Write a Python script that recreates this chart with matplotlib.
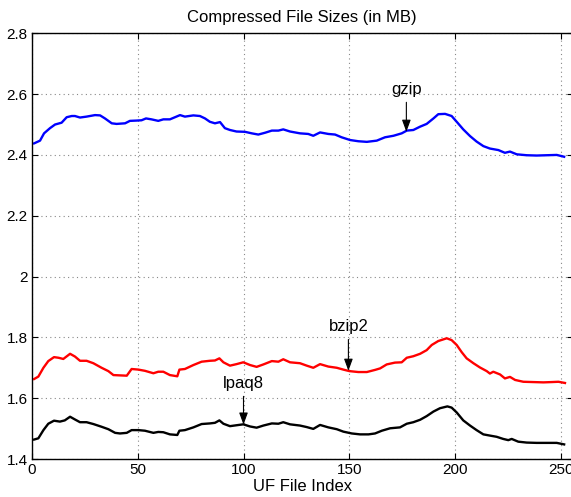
import matplotlib
matplotlib.use("Agg")
import matplotlib.pyplot as plt

plt.rcParams['font.family'] = ['Liberation Sans', 'DejaVu Sans']

gzip_x = [1, 3.8, 5.7, 8.5, 10.9, 14, 16.4, 18.8, 20.3, 22.7, 25.8, 29.8, 32.2, 34.5, 37.7, 40,
          44, 46.3, 49.5, 51.8, 53.9, 56.5, 59.7, 62.1, 65.2, 67.6, 70, 72.3, 76.3, 79.4, 81.8,
          84.1, 86.5, 88.9, 91.2, 93.6, 96.7, 100.7, 103.9, 107, 110.2, 113.4, 116.5, 118.8,
          122, 126.7, 130.6, 133, 136.2, 140.1, 143.3, 146.4, 150.4, 154.3, 158.3, 163,
          166.9, 170.9, 174.8, 177.2, 180.3, 183.5, 186.6, 189.8, 192.1, 195.3, 198.4, 200.8,
          203.9, 207.1, 210.2, 213.4, 216.5, 220.5, 223.6, 226, 229.2, 233.9, 238.6, 243.4,
          248.1, 251.6]
gzip_y = [2.438, 2.447, 2.471, 2.488, 2.500, 2.506, 2.524, 2.528, 2.528, 2.523, 2.526, 2.531,
          2.530, 2.520, 2.504, 2.502, 2.504, 2.512, 2.513, 2.514, 2.520, 2.517, 2.512, 2.517,
          2.517, 2.524, 2.531, 2.526, 2.530, 2.528, 2.520, 2.509, 2.504, 2.508, 2.488, 2.482,
          2.477, 2.476, 2.471, 2.467, 2.473, 2.480, 2.480, 2.484, 2.477, 2.471, 2.469, 2.463,
          2.474, 2.469, 2.467, 2.458, 2.449, 2.445, 2.443, 2.447, 2.458, 2.463, 2.471, 2.480,
          2.482, 2.493, 2.502, 2.520, 2.534, 2.535, 2.528, 2.509, 2.484, 2.462, 2.444, 2.429,
          2.421, 2.416, 2.407, 2.411, 2.402, 2.399, 2.398, 2.399, 2.400, 2.394]

bzip2_x = [1, 3, 5.4, 7.7, 10.4, 12.5, 14.8, 18, 20.3, 22.7, 25.8, 29, 32.9, 36.1, 38.5, 41.6,
           44.8, 47.1, 50.3, 53.4, 57.4, 59.7, 62.1, 65.2, 68.7, 69.7, 72.3, 76.3, 80.2, 84.1,
           86.5, 88.6, 90.5, 93.6, 96.7, 99.9, 103.1, 106.2, 109.4, 113.4, 116.5, 118.8, 122,
           126.7, 129.9, 133, 136.2, 140.1, 144.1, 147.2, 150.1, 154.3, 158.3, 162.2, 164.6,
           167.7, 171.6, 174.8, 177.2, 180.3, 183.5, 186.6, 189, 192.1, 196.1, 198.4, 200.8,
           203.2, 205.5, 208.7, 211.8, 215, 216.5, 218.1, 221.3, 223.6, 226, 228.4, 232.3,
           237, 241.8, 245.7, 248.9, 252]
bzip2_y = [1.663, 1.671, 1.700, 1.722, 1.735, 1.733, 1.729, 1.746, 1.737, 1.723, 1.723, 1.715,
           1.700, 1.689, 1.676, 1.675, 1.674, 1.696, 1.694, 1.690, 1.682, 1.687, 1.687, 1.676,
           1.672, 1.694, 1.696, 1.709, 1.720, 1.723, 1.724, 1.731, 1.718, 1.707, 1.712, 1.718,
           1.709, 1.703, 1.711, 1.722, 1.720, 1.728, 1.718, 1.715, 1.707, 1.700, 1.712, 1.704,
           1.700, 1.694, 1.689, 1.686, 1.686, 1.693, 1.698, 1.711, 1.717, 1.718, 1.733, 1.738,
           1.746, 1.758, 1.775, 1.788, 1.797, 1.791, 1.775, 1.751, 1.731, 1.715, 1.701, 1.689,
           1.681, 1.687, 1.678, 1.665, 1.670, 1.660, 1.654, 1.653, 1.652, 1.653, 1.654, 1.650]

lpaq8_x = [1, 3, 5.4, 7.7, 10.4, 13.2, 15.5, 18, 20.3, 22.7, 25.8, 29, 32.9, 36.1, 39.3, 41.6,
           44.8, 47.1, 50.3, 53.4, 57.4, 59.7, 62.1, 65.2, 68.7, 69.7, 72.3, 76.3, 80.2, 84.1,
           86.5, 88.6, 90.5, 93.6, 96.7, 99.9, 103.1, 106.2, 109.4, 113.4, 116.5, 118.8, 122,
           126.7, 129.9, 133, 136.2, 140.1, 144.1, 147.2, 151.2, 155.1, 159.1, 162.2, 165.4,
           169.3, 174, 177.2, 180.3, 183.5, 186.6, 189.8, 192.9, 196.4, 198.4, 200.8, 203.9,
           207.1, 210.2, 213.4, 216.5, 219.7, 222.8, 225.2, 226.8, 229.9, 233.9, 238.6, 243.4,
           248.1, 251.6]
lpaq8_y = [1.464, 1.468, 1.495, 1.516, 1.526, 1.523, 1.527, 1.539, 1.530, 1.521, 1.521, 1.515,
           1.506, 1.498, 1.486, 1.484, 1.486, 1.495, 1.495, 1.493, 1.486, 1.489, 1.488, 1.481,
           1.479, 1.493, 1.495, 1.504, 1.515, 1.517, 1.519, 1.527, 1.516, 1.508, 1.511, 1.514,
           1.507, 1.503, 1.510, 1.517, 1.516, 1.521, 1.514, 1.510, 1.505, 1.499, 1.512, 1.504,
           1.498, 1.490, 1.484, 1.481, 1.481, 1.484, 1.493, 1.501, 1.504, 1.516, 1.521, 1.529,
           1.541, 1.556, 1.567, 1.573, 1.569, 1.553, 1.527, 1.510, 1.495, 1.481, 1.477, 1.473,
           1.466, 1.462, 1.466, 1.457, 1.454, 1.453, 1.453, 1.453, 1.448]

labels = ['gzip', 'bzip2', 'lpaq8']
label_xy = [(177, 2.476), (149.6, 1.690), (100, 1.513)]
label_text_xy = [(177, 2.616), (149.6, 1.836), (100, 1.649)]

xticks = [0, 50, 100, 150, 200, 250]
yticks = [1.4, 1.6, 1.8, 2.0, 2.2, 2.4, 2.6, 2.8]
ytick_labels = ['1.4', '1.6', '1.8', '2', '2.2', '2.4', '2.6', '2.8']

W, H = 571, 497
fig = plt.figure(figsize=(W / 100, H / 100), dpi=100)
ax = fig.add_axes([32 / W, (H - 459) / H, 540.6 / W, (459 - 33.3) / H])

ax.plot(gzip_x, gzip_y, color='#0000ff', lw=1.7)
ax.plot(bzip2_x, bzip2_y, color='#ff0000', lw=1.7)
ax.plot(lpaq8_x, lpaq8_y, color='black', lw=1.7)

for lab, xy, txy in zip(labels, label_xy, label_text_xy):
    ax.annotate(lab, xy=xy, xytext=txy, ha='center', va='center', fontsize=12,
                arrowprops=dict(arrowstyle='-|>,head_length=0.6,head_width=0.22',
                                color='black', lw=0.8, shrinkA=2, shrinkB=0))

ax.set_xlim(0, 255.6)
ax.set_ylim(1.4, 2.8)
ax.set_xticks(xticks)
ax.set_yticks(yticks)
ax.set_yticklabels(ytick_labels)
ax.tick_params(direction='in', top=True, right=True, labelsize=11, length=4, width=0.8, pad=3)
ax.grid(True, linestyle=(0, (1, 3)), color='#888888', lw=0.8)
for s in ax.spines.values():
    s.set_linewidth(1.0)
ax.set_title('Compressed File Sizes (in MB)', fontsize=12, pad=8)
ax.set_xlabel('UF File Index', fontsize=12, labelpad=1)

fig.savefig('out.png', dpi=100)
